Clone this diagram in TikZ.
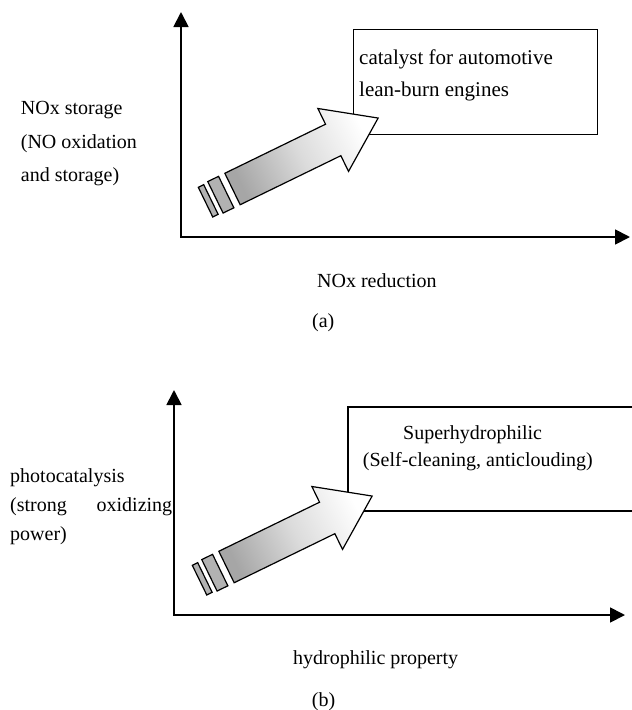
\documentclass[tikz,border=0pt]{standalone}
\usepackage{fontspec}
\setmainfont{Liberation Serif}
\usetikzlibrary{arrows.meta}
\begin{document}
\begin{tikzpicture}[x=1pt,y=-1pt,
  axis/.style={line width=1.8pt, {Triangle[length=15pt,width=15pt]}-{Triangle[length=15pt,width=15pt]}, line join=miter},
  lbl/.style={inner sep=0pt, anchor=base west, font=\fontsize{20}{24}\selectfont},
  boxlbl/.style={lbl, font=\fontsize{21}{25}\selectfont},
  frame/.style={draw, line width=1.4pt},
  bigarrow/.style={draw, line width=1.2pt, line join=miter, top color=gray!70, bottom color=white, middle color=gray!28, shading angle=116},
  stripe/.style={draw, line width=1.2pt, fill=gray!60},
]
\useasboundingbox (0,0) rectangle (632,710);
\clip (0,0) rectangle (632,710);

% ---------- panel (a) ----------
\coordinate (ya) at (181,12);
\coordinate (oa) at (181,237);
\coordinate (xa) at (630,237);
\draw[axis] (ya) -- (oa) -- (xa);

\node[frame, minimum width=244pt, minimum height=105pt, inner sep=0pt, anchor=north west] (boxa) at (353,29) {};
\node[boxlbl] (ba1) at (359,64.5) {catalyst for automotive};
\node[boxlbl] (ba2) at (359,96.5) {lean-burn engines};

\begin{scope}[shift={(232.5,189)}, x={(0.899pt,0.438pt)}, y={(-0.438pt,0.899pt)}]
  \draw[bigarrow] (0,17.5) -- (112,17.5) -- (112,35) -- (162,0) -- (112,-35) -- (112,-17.5) -- (0,-17.5) -- cycle;
  \draw[stripe] (-19,17.5) -- (-7,17.5) -- (-7,-17.5) -- (-19,-17.5) -- cycle;
  \draw[stripe] (-30,16.5) -- (-24,16.5) -- (-24,-16.5) -- (-30,-16.5) -- cycle;
\end{scope}

\node[lbl] (ya1) at (20.7,114) {NOx storage};
\node[lbl] (ya2) at (20.7,148) {(NO oxidation};
\node[lbl] (ya3) at (20.7,181.5) {and storage)};
\node[lbl] (xa1) at (317,287.5) {NOx reduction};
\node[lbl] (capa) at (312,327) {(a)};

% ---------- panel (b) ----------
\coordinate (yb) at (174,390);
\coordinate (ob) at (174,615);
\coordinate (xb) at (625,615);
\draw[axis] (yb) -- (ob) -- (xb);

\coordinate (bbt) at (648,407);
\coordinate (bbb) at (648,511);
\draw[frame] (bbt) -- (348,407) -- (348,511) -- (bbb);
\node[lbl] (bb1) at (403,439.3) {Superhydrophilic};
\node[lbl] (bb2) at (362.7,466) {(Self-cleaning, anticlouding)};

\begin{scope}[shift={(226.5,567)}, x={(0.899pt,0.438pt)}, y={(-0.438pt,0.899pt)}]
  \draw[bigarrow] (0,17.5) -- (112,17.5) -- (112,35) -- (162,0) -- (112,-35) -- (112,-17.5) -- (0,-17.5) -- cycle;
  \draw[stripe] (-19,17.5) -- (-7,17.5) -- (-7,-17.5) -- (-19,-17.5) -- cycle;
  \draw[stripe] (-30,16.5) -- (-24,16.5) -- (-24,-16.5) -- (-30,-16.5) -- cycle;
\end{scope}

\node[lbl] (yb1) at (10,482.5) {photocatalysis};
\node[lbl] (yb2) at (10,511.5) {\makebox[162pt][l]{(strong\hfill oxidizing}};
\node[lbl] (yb3) at (10,540) {power)};
\node[lbl] (xb1) at (293,664) {hydrophilic property};
\node[lbl] (capb) at (311.7,706) {(b)};
\end{tikzpicture}
\end{document}
